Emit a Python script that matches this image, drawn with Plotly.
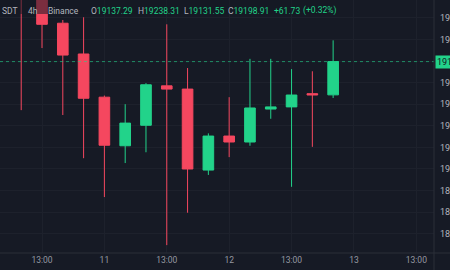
import plotly.graph_objects as go
import pandas as pd

# ---- data (BTCUSDT 4h, Binance, local time) ----
times = pd.date_range("2022-10-10 09:00", periods=16, freq="4h")
opens  = [19400, 19335, 19270, 19213, 19133, 19043, 19081, 19154, 19148, 18998, 19061, 19050, 19111, 19115, 19139.5, 19137.29]
highs  = [19420, 19345, 19276, 19281, 19136, 19120, 19159, 19268, 19187, 19066, 19133, 19204, 19204, 19185, 19181, 19238.31]
lows   = [19109, 19224, 19100, 19020, 18948, 19011, 19031, 18859, 18919, 18989, 19022, 19043, 19093, 18967, 19041, 19131.55]
closes = [19335, 19268, 19211, 19131, 19044, 19085, 19156, 19148, 19000, 19061, 19050, 19113, 19115, 19137, 19137.18, 19198.91]

tick_times = ["2022-10-10 13:00", "2022-10-11 01:00", "2022-10-11 13:00", "2022-10-12 01:00",
              "2022-10-12 13:00", "2022-10-13 01:00", "2022-10-13 13:00"]
tick_text = ["13:00", "11", "13:00", "12", "13:00", "13", "13:00"]

price_ticks = [18880, 18920, 18960, 19000, 19040, 19080, 19120, 19160, 19200, 19240, 19280]
last_price = 19198.91

UP = "#22d38a"
DOWN = "#f5475f"
BG = "#161a25"
GRID = "#1d212c"
AXIS = "#2a2e39"

W, H = 450, 270
ML, MR, MT, MB = 0, 16, 0, 17
PW, PH = W - ML - MR, H - MT - MB

fig = go.Figure()
fig.add_trace(go.Candlestick(
    x=times, open=opens, high=highs, low=lows, close=closes,
    increasing=dict(line=dict(color=UP, width=1), fillcolor=UP),
    decreasing=dict(line=dict(color=DOWN, width=1), fillcolor=DOWN),
    whiskerwidth=0, showlegend=False, hoverinfo="skip",
))

t0 = pd.Timestamp("2022-10-10 09:00")
x_left = t0 - pd.Timedelta(hours=4.08)
x_right = t0 + pd.Timedelta(hours=79.4)

# the 19200 label sits under the last-price badge
price_text = ["" if v == 19200 else f"{v:.2f}" for v in price_ticks]

fig.update_layout(
    width=W, height=H,
    margin=dict(l=ML, r=MR, t=MT, b=MB),
    paper_bgcolor=BG, plot_bgcolor=BG,
    boxgap=0.27,
    showlegend=False,
    font=dict(family="Roboto", color="#9598a1", size=9),
    xaxis=dict(
        range=[x_left, x_right], rangeslider=dict(visible=False),
        tickvals=[pd.Timestamp(t) for t in tick_times], ticktext=tick_text,
        showgrid=True, gridcolor=GRID, gridwidth=1,
        showline=False, zeroline=False, ticks="",
        tickfont=dict(size=8.5, color="#9598a1"), automargin=False,
    ),
    yaxis=dict(
        range=[18844.4, 19313], side="right",
        tickvals=price_ticks, ticktext=price_text,
        showgrid=True, gridcolor=GRID, gridwidth=1,
        showline=False, zeroline=False, ticks="",
        tickfont=dict(size=9, color="#b2b5be"), automargin=False,
        ticklabelstandoff=5,
    ),
)

# last price dotted line
fig.add_shape(type="line", xref="paper", yref="y", x0=0, x1=1, y0=last_price, y1=last_price,
              line=dict(color="rgba(34,211,138,0.6)", width=1, dash="dot"))
# axes borders
fig.add_shape(type="line", xref="paper", yref="paper", x0=1, x1=1, y0=-MB / PH, y1=1,
              line=dict(color=AXIS, width=1))
fig.add_shape(type="line", xref="paper", yref="paper", x0=0, x1=W / PW, y0=0, y1=0,
              line=dict(color=AXIS, width=1))
# header backdrop
fig.add_shape(type="rect", xref="paper", yref="paper", x0=0, x1=340 / PW, y0=1 - 14 / PH, y1=1,
              fillcolor="rgba(22,26,37,0.55)", line=dict(width=0), layer="above")

# price label
fig.add_annotation(xref="paper", yref="y", x=1, y=last_price, xanchor="left", yanchor="middle",
                   text="19198.91", showarrow=False, bgcolor=UP, borderpad=1,
                   font=dict(size=9, color="#131722"), xshift=1)

# header texts
hy = 1 - 11 / PH
GRAY = "#b2b5be"
def hdr(px, txt):
    fig.add_annotation(xref="paper", yref="paper", x=px / PW, y=hy, xanchor="left", yanchor="middle",
                       text=txt, showarrow=False, font=dict(size=8.5, color=GRAY))

hdr(0, "SDT")
hdr(26, "4h")
hdr(46, "Binance")
hdr(89, f"O<span style='color:{UP}'>19137.29</span>")
hdr(136, f"H<span style='color:{UP}'>19238.31</span>")
hdr(182, f"L<span style='color:{UP}'>19131.55</span>")
hdr(226, f"C<span style='color:{UP}'>19198.91</span>")
hdr(272, f"<span style='color:{UP}'>+61.73</span>")
hdr(301, f"<span style='color:{UP}'>(+0.32%)</span>")

fig.write_html("out.html")
